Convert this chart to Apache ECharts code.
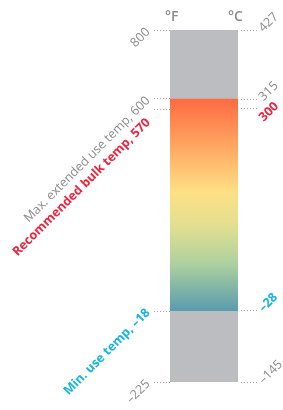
<!DOCTYPE html>
<html>
<head>
<meta charset="utf-8">
<title>temp range</title>
<script src="https://cdn.jsdelivr.net/npm/echarts@6/dist/echarts.min.js"></script>
<style>
  html, body { margin: 0; padding: 0; background: #fff; }
</style>
</head>
<body>
<div id="main" style="width:283px;height:410px;"></div>
<script type="text/javascript">
// scale ends, in both units
var fRange = [-225, 800];
var cRange = [-145, 427];
// usable band (°F) drawn with the gradient
var useBand = [-18, 600];

// ticks and labels, °F on the left, °C on the right
var fTicks = [-225, -18, 570, 600, 800];
var fLabels = ['–225', 'Min. use temp, –18', 'Recommended bulk temp, 570', 'Max. extended use temp, 600', '800'];
var fKinds = ['g', 'c', 'r', 'g', 'g'];
var cTicks = [-145, -28, 300, 315, 427];
var cLabels = ['–145', '–28', '300', '315', '427'];
var cKinds = ['g', 'c', 'rr', 'g', 'g'];

var GREY = '#8c8c8c';
var FONT = 'Open Sans';
var rich = {
    g: { color: GREY, fontSize: 12.5, fontFamily: FONT },
    // red labels sit close to the grey ones, nudge them apart
    r: { color: '#f0233c', fontSize: 12.5, fontWeight: 'bold', fontFamily: FONT, padding: [17, 8, 0, 0] },
    rr: { color: '#f0233c', fontSize: 12.5, fontWeight: 'bold', fontFamily: FONT, padding: [32, 0, 0, 0] },
    c: { color: '#15b4e3', fontSize: 12.5, fontWeight: 'bold', fontFamily: FONT }
};

// only: undefined -> every kind but 'rr'; 'rr' -> just that one
function fmt(ticks, labels, kinds, only) {
    return function (v) {
        var i = ticks.indexOf(v);
        if (i < 0) return '';
        if (only ? kinds[i] !== only : kinds[i] === 'rr') return '';
        return '{' + kinds[i] + '|' + labels[i] + '}';
    };
}

var myChart = echarts.init(document.getElementById('main'));

var tickStyle = { show: true, length: 16, lineStyle: { color: '#a6a6a6', width: 1, type: [1, 2] } };
var noLine = { show: false };

myChart.setOption({
    animation: false,
    grid: { left: 170, top: 30, width: 68, height: 352, outerBoundsMode: 'none', containLabel: false },
    xAxis: { type: 'value', min: 0, max: 1, show: false },
    yAxis: [
        {
            type: 'value', min: fRange[0], max: fRange[1], position: 'left', offset: 2,
            axisLine: noLine, splitLine: noLine,
            axisTick: Object.assign({ customValues: fTicks }, tickStyle),
            axisLabel: { customValues: fTicks, rotate: 45, margin: 20, hideOverlap: false, formatter: fmt(fTicks, fLabels, fKinds), rich: rich }
        },
        {
            type: 'value', min: cRange[0], max: cRange[1], position: 'right', offset: 3,
            axisLine: noLine, splitLine: noLine,
            axisTick: Object.assign({ customValues: cTicks }, tickStyle),
            axisLabel: { customValues: cTicks, rotate: 45, margin: 20, hideOverlap: false, formatter: fmt(cTicks, cLabels, cKinds), rich: rich }
        },
        {
            // label-only copy of the °C axis for the red 300, pulled in closer
            type: 'value', min: cRange[0], max: cRange[1], position: 'right', offset: 3,
            axisLine: noLine, splitLine: noLine, axisTick: noLine,
            axisLabel: { customValues: cTicks, rotate: 45, margin: 9, hideOverlap: false, formatter: fmt(cTicks, cLabels, cKinds, 'rr'), rich: rich }
        }
    ],
    graphic: [
        { type: 'text', left: 165, top: 10, style: { text: '°F', fill: GREY, font: '600 14px "Open Sans"' } },
        { type: 'text', left: 228, top: 10, style: { text: '°C', fill: GREY, font: '600 14px "Open Sans"' } }
    ],
    series: [{
        type: 'line',
        data: [],
        silent: true,
        markArea: {
            silent: true,
            data: [
                [{ yAxis: fRange[0], itemStyle: { color: '#bcbdc1' } }, { yAxis: fRange[1] }],
                [{
                    yAxis: useBand[0],
                    itemStyle: {
                        color: new echarts.graphic.LinearGradient(0, 0, 0, 1, [
                            { offset: 0, color: '#ff6a42' },
                            { offset: 0.2, color: '#ffa05e' },
                            { offset: 0.44, color: '#fee085' },
                            { offset: 0.6, color: '#e2df90' },
                            { offset: 0.78, color: '#add09f' },
                            { offset: 1, color: '#5a9bae' }
                        ])
                    }
                }, { yAxis: useBand[1] }]
            ]
        }
    }]
});
</script>
</body>
</html>
